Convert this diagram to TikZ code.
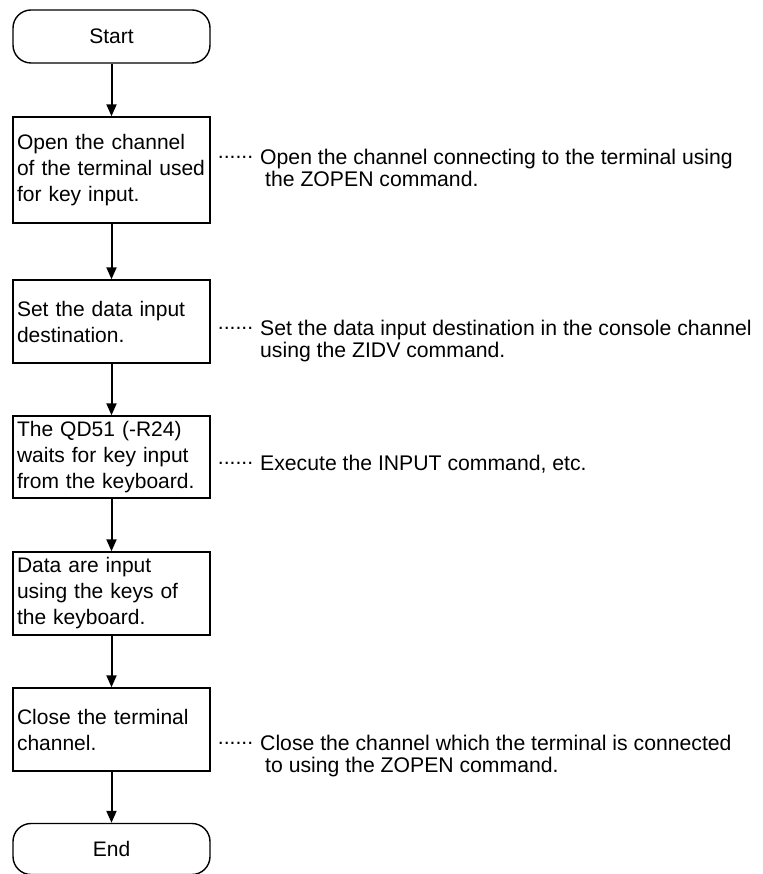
\documentclass[tikz,border=0pt]{standalone}
\usepackage{fontspec}
\setmainfont{Liberation Sans}
\usetikzlibrary{arrows.meta}
\newcommand{\leaddots}{\llap{\raisebox{0.3em}{......}\hspace{7pt}}}
\begin{document}
\begin{tikzpicture}[x=1pt,y=-1pt,
  every node/.style={font=\fontsize{21}{26}\selectfont},
  term/.style={draw, line width=1.4pt, rounded corners=18pt, minimum width=197pt, inner sep=0pt},
  proc/.style={draw, line width=1.4pt, minimum width=197pt, text width=189pt, inner xsep=4pt, inner ysep=0pt, align=left},
  flow/.style={line width=2pt, -{Triangle[length=12pt,width=10pt]}},
  note/.style={anchor=north west, align=left, inner sep=0pt, font=\fontsize{21.2}{21.5}\selectfont}
]
\useasboundingbox (0,0) rectangle (762,874);
\node[term, minimum height=53pt] (start) at (111.5,36.5) {Start};
\node[proc, minimum height=106pt] (b1) at (111.5,170) {Open the channel\\of the terminal used\\for key input.};
\node[proc, minimum height=83pt] (b2) at (111.5,321.5) {Set the data input\\destination.};
\node[proc, minimum height=82pt] (b3) at (111.5,457) {The QD51 (-R24)\\waits for key input\\from the keyboard.};
\node[proc, minimum height=83pt] (b4) at (111.5,593.5) {Data are input\\using the keys of\\the keyboard.};
\node[proc, minimum height=83pt] (b5) at (111.5,729.5) {Close the terminal\\channel.};
\node[term, minimum height=51pt] (end) at (111.5,849) {End};

\draw[flow] (start) -- (b1);
\draw[flow] (b1) -- (b2);
\draw[flow] (b2) -- (b3);
\draw[flow] (b3) -- (b4);
\draw[flow] (b4) -- (b5);
\draw[flow] (b5) -- (end);

\node[note] (n1) at (260,149) {\leaddots Open the channel connecting to the terminal using\\\hspace{5pt}the ZOPEN command.};
\node[note] (n2) at (260,320) {\leaddots Set the data input destination in the console channel\\using the ZIDV command.};
\node[note] (n3) at (260,455) {\leaddots Execute the INPUT command, etc.};
\node[note] (n5) at (260,735) {\leaddots Close the channel which the terminal is connected\\\hspace{5pt}to using the ZOPEN command.};
\end{tikzpicture}
\end{document}
